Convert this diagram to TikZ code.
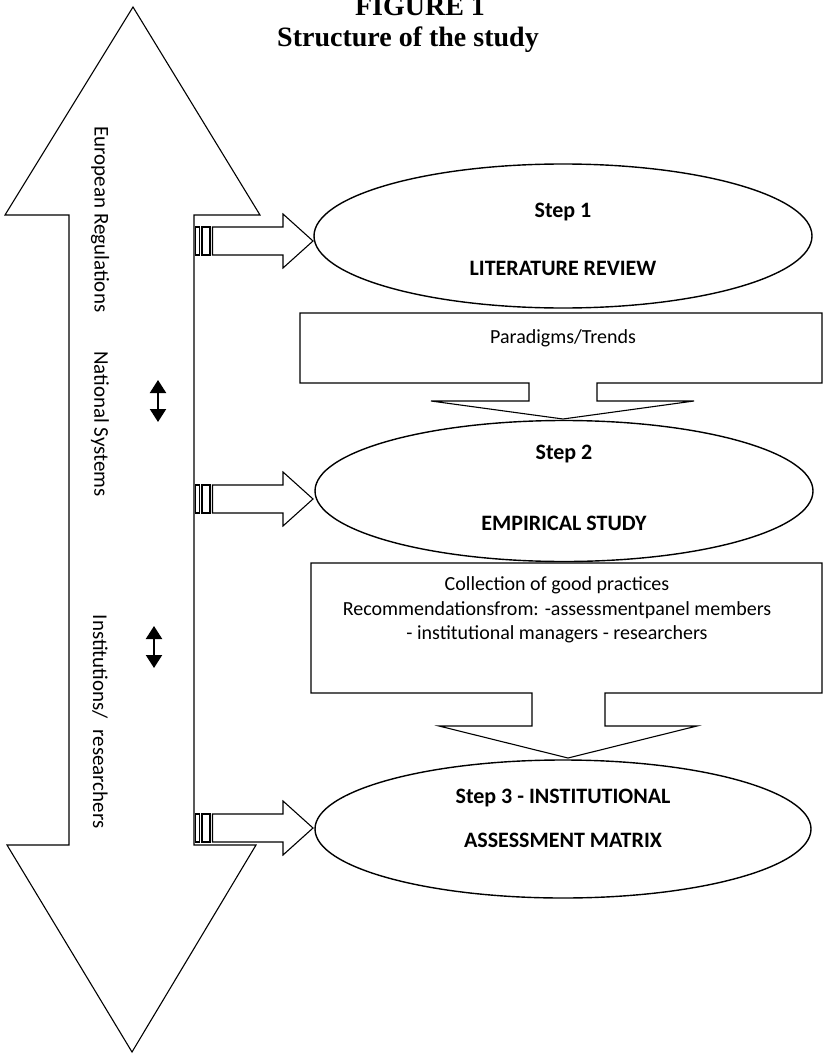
\documentclass[tikz,border=0pt]{standalone}
\usepackage{fontspec}
\setmainfont{Carlito}
\newfontfamily\titlefont{Liberation Serif}
\usetikzlibrary{arrows.meta,shapes.geometric}

\tikzset{
  outline/.style={draw, line width=1.1pt, line join=miter},
  stepoval/.style={draw, ellipse, line width=1.4pt, inner sep=0pt},
  steptext/.style={font=\bfseries\fontsize{22}{26}\selectfont},
  boxtext/.style={font=\fontsize{20}{24.5}\selectfont, align=center},
  sidetext/.style={rotate=-90, font=\fontsize{21}{24}\selectfont},
  updown/.style={line width=2.2pt, {Triangle[width=16pt,length=13pt]}-{Triangle[width=16pt,length=13pt]}},
}

\begin{document}
\begin{tikzpicture}[x=1pt, y=-1pt]
\useasboundingbox (0,0) rectangle (824,1054);%
% title
\node[font=\titlefont\bfseries\fontsize{28}{32}\selectfont, anchor=base] (fig) at (420,16) {FIGURE 1};%
\node[font=\titlefont\bfseries\fontsize{28}{32}\selectfont, anchor=base] (title) at (408,47) {Structure of the study};%
% big double arrow
\draw[outline] (133,7) -- (260,215) -- (194,215) -- (194,845) -- (256,845) -- (132,1052) -- (7,845) -- (69,845) -- (69,215) -- (5,215) -- cycle;%
\node[sidetext, anchor=west] (eur) at (100,123) {European Regulations};%
\node[sidetext] (nat) at (100,424) {National Systems};%
\node[sidetext, anchor=east] (inst) at (100,832) {Institutions/\hspace{6pt} researchers};%
% small double arrows
\coordinate (ua) at (158,380);%
\coordinate (ub) at (158,422);%
\coordinate (va) at (154,626);%
\coordinate (vb) at (154,668);%
\draw[updown] (ua) -- (ub);%
\draw[updown] (va) -- (vb);%
% striped arrows
\foreach \c in {241,499,828} {%
  \draw[outline] (195.5,\c-14) rectangle (199.5,\c+14);%
  \draw[outline] (202,\c-14) rectangle (210,\c+14);%
  \draw[outline] (212.5,\c-14) -- (283,\c-14) -- (283,\c-27) -- (313,\c) -- (283,\c+27) -- (283,\c+14) -- (212.5,\c+14) -- cycle;%
}
% steps
\node[stepoval, minimum width=498pt, minimum height=144pt] (step1) at (563,236) {};%
\node[steptext] (s1a) at (563,212) {Step 1};%
\node[steptext] (s1b) at (563,268) {LITERATURE REVIEW};%
\node[stepoval, minimum width=498pt, minimum height=141pt] (step2) at (564,491) {};%
\node[steptext] (s2a) at (564,454) {Step 2};%
\node[steptext] (s2b) at (564,523) {EMPIRICAL STUDY};%
\node[stepoval, minimum width=496pt, minimum height=138pt] (step3) at (563,829) {};%
\node[steptext] (s3a) at (563,798) {Step 3 - INSTITUTIONAL};%
\node[steptext] (s3b) at (563,840) {ASSESSMENT MATRIX};%
% callouts
\draw[outline] (300,313) -- (822,313) -- (822,383) -- (597,383) -- (597,401) -- (694,401) -- (563,419) -- (431,401) -- (529,401) -- (529,383) -- (300,383) -- cycle;%
\node[boxtext] (para) at (563,338) {Paradigms/Trends};%
\draw[outline] (311,563) -- (822,563) -- (822,693) -- (605,693) -- (605,726) -- (697,726) -- (568,758) -- (439,726) -- (532,726) -- (532,693) -- (311,693) -- cycle;%
\node[boxtext] (good) at (557,610) {Collection of good practices\\Recommendationsfrom: -assessmentpanel members\\- institutional managers - researchers};%
\end{tikzpicture}
\end{document}
